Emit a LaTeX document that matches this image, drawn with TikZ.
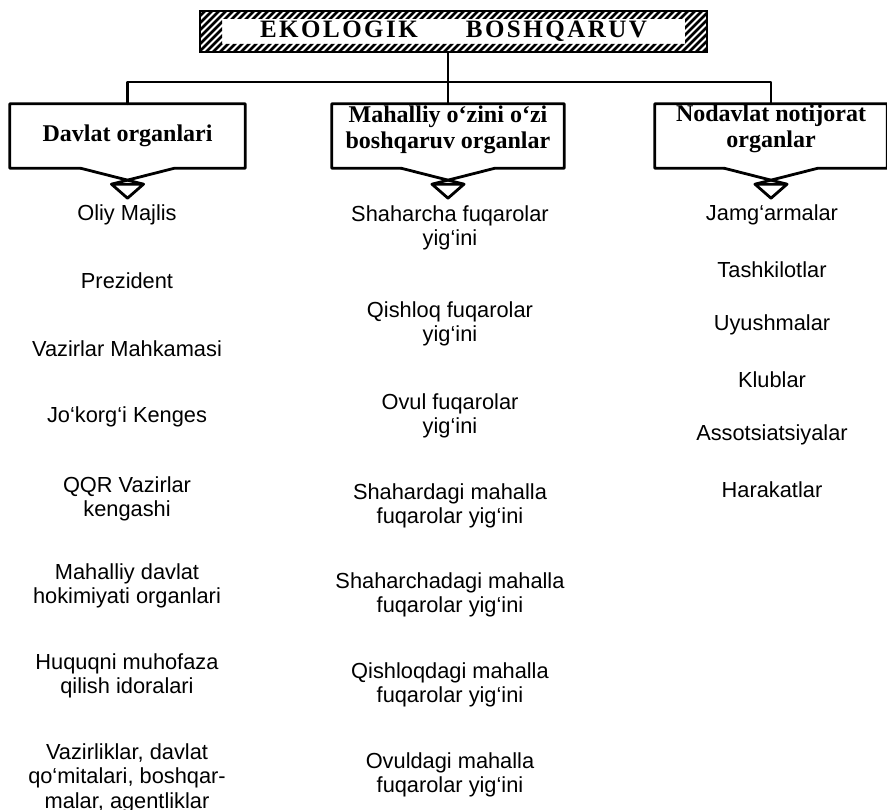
\documentclass[tikz,border=0pt]{standalone}
\usepackage{fontspec}
\setmainfont{Liberation Sans}
\newfontfamily\hdfont{Liberation Serif}
\newfontfamily\ttlfont[LetterSpace=10]{Liberation Serif}
\usetikzlibrary{calc}
\newcommand\hdrshape[1]{%
  \draw[boxline] ($(#1.south)+(-47,0)$) -- (#1.south west) -- (#1.north west) -- (#1.north east) -- (#1.south east) -- ($(#1.south)+(47,0)$) -- ($(#1.south)+(-16,16)$);
  \draw[boxline] ($(#1.south)+(-47,0)$) -- ($(#1.south)+(16,16)$);
  \draw[boxline] ($(#1.south)+(-16,16)$) -- ($(#1.south)+(16,16)$) -- ($(#1.south)+(0,30)$) -- cycle;}
\begin{document}
\begin{tikzpicture}[x=1pt,y=-1pt,
  conn/.style={line width=2.6pt, line cap=round, line join=round},
  boxline/.style={line width=2.8pt, line join=round, line cap=round},
  hdrbox/.style={inner sep=0pt, minimum height=64pt},
  hdrtext/.style={font=\hdfont\bfseries\fontsize{24}{25.5}\selectfont, align=center, inner sep=0pt},
  item/.style={font=\fontsize{21.8}{24.5}\selectfont, align=center, inner sep=0pt},
  hatch/.style={line width=2.7pt}]
\useasboundingbox (0,0) rectangle (887,810);
% title
\node[draw, line width=2pt, minimum width=507pt, minimum height=41pt, inner sep=0pt,
  font=\ttlfont\bfseries\fontsize{25}{27}\selectfont] (title) at (453.5,31.5) {EKOLOGIK\hspace{48pt}BOSHQARUV};
\begin{scope}
  \clip (200,11) rectangle (707,19) (200,44) rectangle (707,52) (200,19) rectangle (222,44) (685,19) rectangle (707,44);
  \foreach \x in {150,157,...,720} \draw[hatch] (\x,52) -- ++(41,-41);
\end{scope}
% header boxes
\node[hdrbox, minimum width=235pt] (h1) at (127.5,136) {};
\node[hdrbox, minimum width=232pt] (h2) at (448,136) {};
\node[hdrbox, minimum width=232pt] (h3) at (771,136) {};
\node[hdrtext] (h1t) at (127.5,136) {Davlat organlari};
\node[hdrtext] (h2t) at (448,130) {Mahalliy o‘zini o‘zi\\boshqaruv organlar};
\node[hdrtext] (h3t) at (771,129) {Nodavlat notijorat\\organlar};
\hdrshape{h1}
\hdrshape{h2}
\hdrshape{h3}
% connectors
\coordinate (bus) at (448,82);
\draw[conn] (title.south -| h2.north) -- (h2.north);
\draw[conn] (h1.north) -- (h1.north |- bus) -- (h3.north |- bus) -- (h3.north);
% column 1
\node[item] (c1a) at (127,215) {Oliy Majlis};
\node[item] (c1b) at (127,281) {Prezident};
\node[item] (c1c) at (127,349) {Vazirlar Mahkamasi};
\node[item] (c1d) at (127,417) {Jo‘korg‘i Kenges};
\node[item] (c1e) at (127,499) {QQR Vazirlar\\kengashi};
\node[item] (c1f) at (127,586) {Mahalliy davlat\\hokimiyati organlari};
\node[item] (c1g) at (127,676) {Huquqni muhofaza\\qilish idoralari};
\node[item] (c1h) at (127,778) {Vazirliklar, davlat\\qo‘mitalari, boshqar-\\malar, agentliklar};
% column 2
\node[item] (c2a) at (450,228) {Shaharcha fuqarolar\\yig‘ini};
\node[item] (c2b) at (450,324) {Qishloq fuqarolar\\yig‘ini};
\node[item] (c2c) at (450,416) {Ovul fuqarolar\\yig‘ini};
\node[item] (c2d) at (450,506) {Shahardagi mahalla\\fuqarolar yig‘ini};
\node[item] (c2e) at (450,595) {Shaharchadagi mahalla\\fuqarolar yig‘ini};
\node[item] (c2f) at (450,685) {Qishloqdagi mahalla\\fuqarolar yig‘ini};
\node[item] (c2g) at (450,775) {Ovuldagi mahalla\\fuqarolar yig‘ini};
% column 3
\node[item] (c3a) at (772,215) {Jamg‘armalar};
\node[item] (c3b) at (772,270) {Tashkilotlar};
\node[item] (c3c) at (772,325) {Uyushmalar};
\node[item] (c3d) at (772,380) {Klublar};
\node[item] (c3e) at (772,435) {Assotsiatsiyalar};
\node[item] (c3f) at (772,490) {Harakatlar};
\end{tikzpicture}
\end{document}
